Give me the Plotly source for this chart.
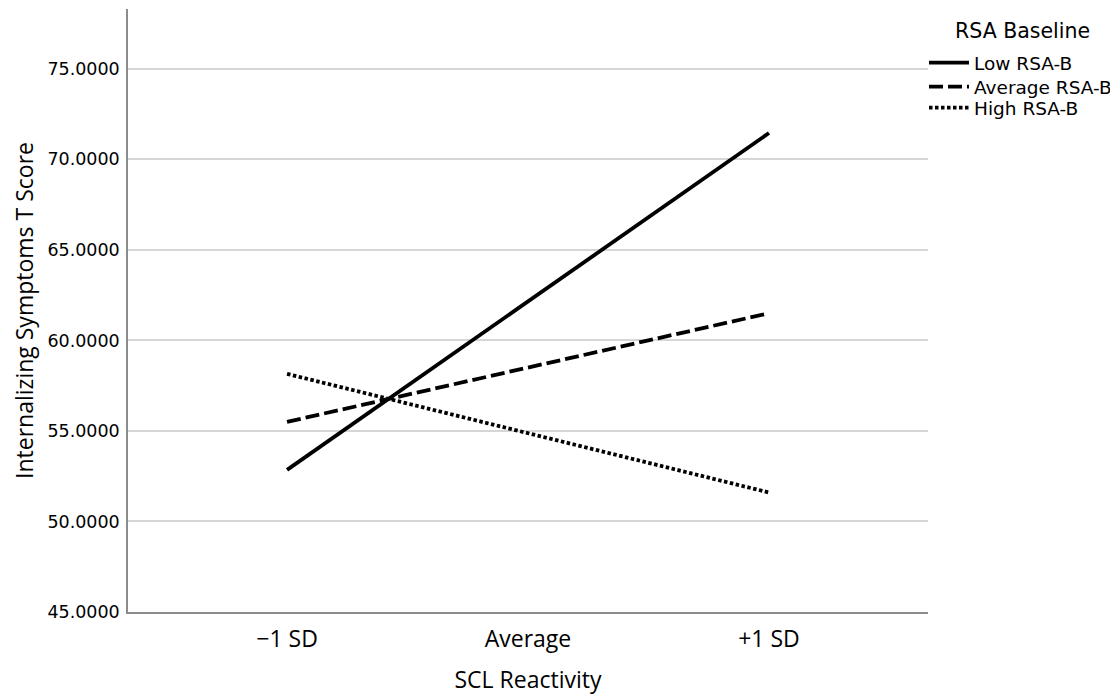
import plotly.graph_objects as go

categories = ["−1 SD", "Average", "+1 SD"]
low_rsa = [52.85, 62.15, 71.45]
avg_rsa = [55.5, 58.5, 61.5]
high_rsa = [58.15, 54.9, 51.6]
series_names = ["Low RSA-B", "Average RSA-B", "High RSA-B"]
legend_title = "RSA Baseline"
y_ticks = [45, 50, 55, 60, 65, 70, 75]

fig = go.Figure()
styles = ["solid", "14px,5px", "3.5px,2.5px"]
legend_ids = ["legend", "legend2", "legend3"]
for name, vals, dash, lg in zip(series_names, [low_rsa, avg_rsa, high_rsa], styles, legend_ids):
    fig.add_trace(go.Scatter(
        x=[0, 1, 2], y=vals, mode="lines", name=name, legend=lg, showlegend=True,
        line=dict(color="black", width=3.8, dash=dash),
    ))

legend_style = dict(
    x=0.995, xanchor="left", yanchor="middle",
    font=dict(size=18.5, family="DejaVu Sans"),
    itemwidth=40, bgcolor="rgba(0,0,0,0)",
)

# page body adds an 8px margin, so the figure is sized/offset to compensate
fig.update_layout(
    width=1110, height=690,
    margin=dict(l=120, r=190, t=1, b=86),
    paper_bgcolor="white", plot_bgcolor="white",
    font=dict(family="Open Sans", color="black"),
    showlegend=True,
    legend=dict(y=0.9104, **legend_style),
    legend2=dict(y=0.8706, **legend_style),
    legend3=dict(y=0.8358, **legend_style),
    annotations=[dict(
        text=legend_title, xref="paper", yref="paper", x=1.1175, y=0.9635,
        xanchor="center", yanchor="middle", showarrow=False,
        font=dict(size=20.5, family="DejaVu Sans", color="black"),
    )],
    xaxis=dict(
        range=[-0.66, 2.66], tickvals=[0, 1, 2], ticktext=categories,
        showgrid=False, zeroline=False,
        showline=True, linecolor="#8c8c8c", linewidth=1.5,
        tickfont=dict(size=23, family="Open Sans"),
        ticklabelstandoff=6,
        title=dict(text="SCL Reactivity", font=dict(size=23, family="Open Sans"), standoff=19),
        ticks="",
    ),
    yaxis=dict(
        range=[45, 78.3], tickvals=y_ticks,
        ticktext=[f"{v:.4f}" for v in y_ticks],
        showgrid=True, gridcolor="#d6d6d6", gridwidth=1.5,
        zeroline=False,
        showline=True, linecolor="#8c8c8c", linewidth=1.5,
        tickfont=dict(size=17.5, family="DejaVu Sans"),
        ticklabelstandoff=3,
        title=dict(text="Internalizing Symptoms T Score", font=dict(size=23, family="Open Sans"), standoff=17),
        ticks="",
    ),
)

fig.write_html("out.html")
